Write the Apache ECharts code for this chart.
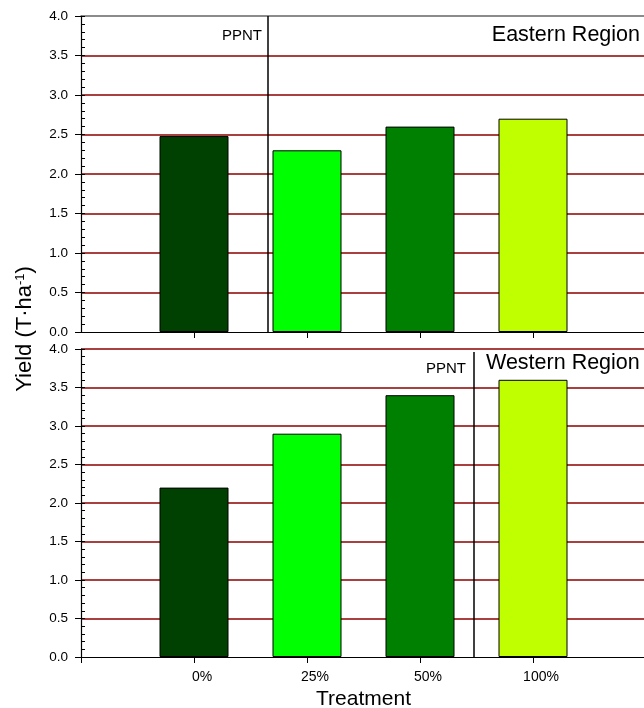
<!DOCTYPE html>
<html>
<head>
<meta charset="utf-8">
<script src="https://cdn.jsdelivr.net/npm/echarts@6/dist/echarts.min.js"></script>
<style>
html,body{margin:0;padding:0;background:#fff;}
#chart{width:644px;height:708px;}
</style>
</head>
<body>
<div id="chart"></div>
<script>
// ---- data ----
const categories = ['0%', '25%', '50%', '100%'];
const easternYield = [2.48, 2.30, 2.60, 2.70];
const westernYield = [2.20, 2.90, 3.40, 3.60];
const yTickValues = [0, 0.5, 1.0, 1.5, 2.0, 2.5, 3.0, 3.5, 4.0];
const ppntEastern = 1.65;   // position of PPNT divider (x units)
const ppntWestern = 3.48;
const barColors = ['#004000', '#00ff00', '#008000', '#c0ff00'];

const FONT = 'Liberation Sans, Arial, Helvetica, sans-serif';
const xPos = categories.map((c, i) => i + 1);

function toData(vals) {
  return vals.map((v, i) => ({
    value: [xPos[i], v],
    itemStyle: { color: barColors[i], borderColor: '#000', borderWidth: 1 }
  }));
}

const chart = echarts.init(document.getElementById('chart'), null, { renderer: 'canvas' });

function yAxisMain(gridIndex, showMax) {
  return {
    type: 'value', gridIndex, position: 'left', min: 0, max: 4, interval: 0.5,
    axisLine: { show: true, lineStyle: { color: '#000', width: 1.2 } },
    axisTick: { show: true, inside: false, length: 6, lineStyle: { color: '#000', width: 1 } },
    axisLabel: {
      show: true, fontFamily: FONT, fontSize: 13.5, color: '#000', margin: 13,
      customValues: yTickValues,
      formatter: v => Number(v).toFixed(1)
    },
    splitLine: { show: true, showMinLine: false, showMaxLine: showMax,
      lineStyle: { color: '#8b0000', width: 1.6 } }
  };
}
function yAxisMinor(gridIndex) {
  return {
    type: 'value', gridIndex, position: 'left', offset: 0, min: 0, max: 4, interval: 0.1,
    axisLine: { show: false },
    axisTick: { show: true, inside: true, length: 4, lineStyle: { color: '#000', width: 1 } },
    axisLabel: { show: false },
    splitLine: { show: false }
  };
}

const option = {
  backgroundColor: '#fff',
  animation: false,
  grid: [
    { left: 81, top: 16, width: 565, height: 316, outerBoundsMode: 'none', containLabel: false },
    { left: 81, top: 349, width: 565, height: 308, outerBoundsMode: 'none', containLabel: false }
  ],
  xAxis: [
    {
      type: 'value', gridIndex: 0, min: 0, max: 5, interval: 1, position: 'bottom',
      axisLine: { show: true, onZero: false, lineStyle: { color: '#000', width: 1.2 } },
      axisTick: { show: true, length: 6, customValues: [1, 2, 3, 4], lineStyle: { color: '#000' } },
      axisLabel: { show: false },
      splitLine: { show: false }
    },
    {
      type: 'value', gridIndex: 0, min: 0, max: 5, interval: 1, position: 'top',
      axisLine: { show: true, onZero: false, lineStyle: { color: '#666', width: 1.5 } },
      axisTick: { show: false }, axisLabel: { show: false }, splitLine: { show: false }
    },
    {
      type: 'value', gridIndex: 1, min: 0, max: 5, interval: 1, position: 'bottom',
      name: 'Treatment', nameLocation: 'middle', nameGap: 32,
      nameTextStyle: { fontFamily: FONT, fontSize: 21, color: '#000' },
      axisLine: { show: true, onZero: false, lineStyle: { color: '#000', width: 1.2 } },
      axisTick: { show: true, length: 6, lineStyle: { color: '#000' } },
      axisLabel: {
        show: true, fontFamily: FONT, fontSize: 14, color: '#000', margin: 13,
        padding: [0, 0, 0, 16],
        formatter: v => categories[v - 1] || ''
      },
      splitLine: { show: false }
    }
  ],
  yAxis: [
    yAxisMain(0, false), yAxisMinor(0),
    yAxisMain(1, true), yAxisMinor(1)
  ],
  series: [
    {
      type: 'bar', xAxisIndex: 0, yAxisIndex: 0, barWidth: 69,
      data: toData(easternYield),
      markLine: {
        silent: true, symbol: 'none', label: { show: false },
        lineStyle: { color: '#000', width: 1.5, type: 'solid' },
        data: [{ xAxis: ppntEastern }]
      }
    },
    {
      type: 'bar', xAxisIndex: 2, yAxisIndex: 2, barWidth: 69,
      data: toData(westernYield),
      markLine: {
        silent: true, symbol: 'none', label: { show: false },
        lineStyle: { color: '#000', width: 1.5, type: 'solid' },
        data: [[{ xAxis: ppntWestern, yAxis: 0 }, { xAxis: ppntWestern, yAxis: 3.96 }]]
      }
    }
  ],
  graphic: [
    { type: 'text', x: 262, y: 36, style: { text: 'PPNT', font: '15px ' + FONT, fill: '#000', align: 'right', verticalAlign: 'middle' } },
    { type: 'text', x: 640, y: 35, style: { text: 'Eastern Region', font: '21.5px ' + FONT, fill: '#000', align: 'right', verticalAlign: 'middle' } },
    { type: 'text', x: 466, y: 369, style: { text: 'PPNT', font: '15px ' + FONT, fill: '#000', align: 'right', verticalAlign: 'middle' } },
    { type: 'text', x: 486, y: 363, style: { text: 'Western Region', font: '21.5px ' + FONT, fill: '#000', align: 'left', verticalAlign: 'middle' } },
    {
      type: 'text', x: 25, y: 329, rotation: Math.PI / 2,
      style: {
        text: '{a|Yield (T·ha}{s|-1}{a|)}', align: 'center', verticalAlign: 'middle',
        rich: {
          a: { fontFamily: FONT, fontSize: 22, fill: '#000', color: '#000' },
          s: { fontFamily: FONT, fontSize: 13, fill: '#000', color: '#000', verticalAlign: 'top', padding: [0, 0, 9, 0] }
        }
      }
    }
  ]
};
chart.setOption(option);
</script>
</body>
</html>
